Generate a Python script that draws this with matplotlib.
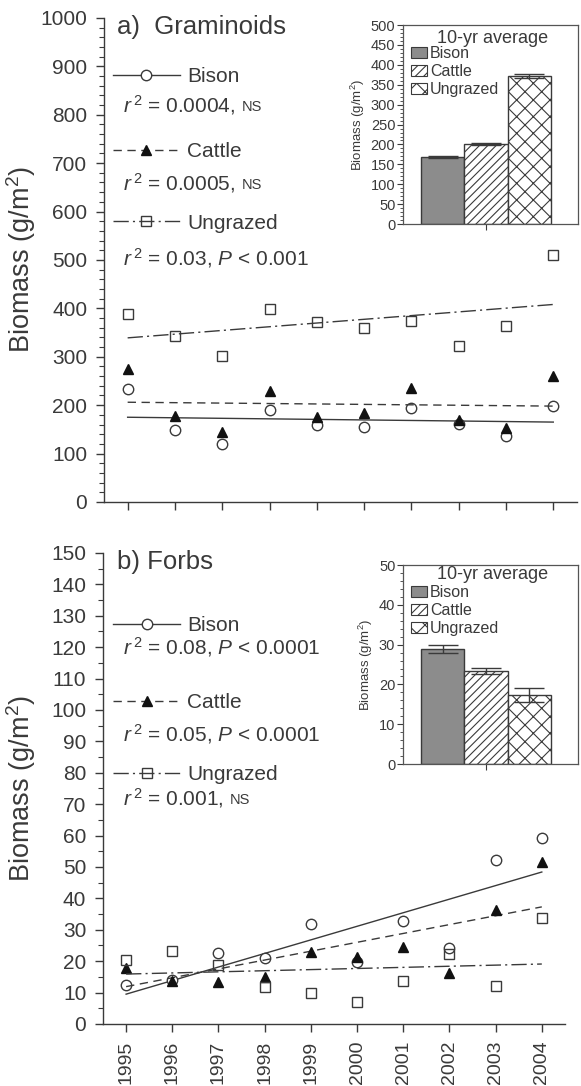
import matplotlib
matplotlib.use("Agg")
import matplotlib.pyplot as plt
from matplotlib.lines import Line2D
from matplotlib.patches import Patch
from matplotlib.legend import Legend
from matplotlib.ticker import MultipleLocator
import numpy as np

plt.rcParams['font.family'] = ['Liberation Sans', 'DejaVu Sans']
plt.rcParams['mathtext.fontset'] = 'custom'
plt.rcParams['mathtext.rm'] = 'Liberation Sans'
plt.rcParams['mathtext.it'] = 'Liberation Sans:italic'
plt.rcParams['hatch.linewidth'] = 0.8

INK = '#3a3a3a'

years = np.arange(1995, 2005)
trend_years = [1995, 2004]

# a) graminoids, g/m2
gram_bison = [233, 149, 120, 190, 159, 155, 194, 161, 136, 198]
gram_cattle = [275, 178, 145, 229, 176, 184, 236, 169, 153, 260]
gram_ungrazed = [388, 343, 302, 399, 372, 360, 374, 322, 364, 510]
gram_trend_bison = [175, 165]
gram_trend_cattle = [206, 198]
gram_trend_ungrazed = [339, 408]
gram_avg = [169, 201, 373]
gram_avg_err = [3, 2, 5]
gram_stats = [r'$r^{\,2}$ = 0.0004,', r'$r^{\,2}$ = 0.0005,', r'$r^{\,2}$ = 0.03, $P$ < 0.001']
gram_ns = [True, True, False]

# b) forbs, g/m2
forb_bison = [12.4, 14.0, 22.6, 21.0, 31.8, 19.7, 32.8, 24.2, 52.2, 59.2]
forb_cattle = [17.8, 13.7, 13.4, 15.0, 22.9, 21.4, 24.6, 16.3, 36.3, 51.6]
forb_ungrazed = [20.4, 23.2, 18.8, 11.9, 9.9, 7.0, 13.7, 22.3, 12.1, 33.8]
forb_trend_bison = [9.5, 48.4]
forb_trend_cattle = [11.9, 37.3]
forb_trend_ungrazed = [15.9, 19.1]
forb_avg = [29.0, 23.4, 17.3]
forb_avg_err = [1.0, 0.8, 1.8]
forb_stats = [r'$r^{\,2}$ = 0.08, $P$ < 0.0001', r'$r^{\,2}$ = 0.05, $P$ < 0.0001', r'$r^{\,2}$ = 0.001,']
forb_ns = [False, False, True]

treatments = ['Bison', 'Cattle', 'Ungrazed']

styles = [
    dict(ls='-', marker='o', mfc='white', mec=INK, ms=7.5),
    dict(ls=(0, (6, 4)), marker='^', mfc='#111111', mec='#111111', ms=7.5),
    dict(ls=(0, (11, 3, 1.5, 3)), marker='s', mfc='none', mec=INK, ms=7.5),
]
bar_styles = [
    dict(facecolor='#8c8c8c', hatch=None),
    dict(facecolor='white', hatch='////'),
    dict(facecolor='white', hatch='xx'),
]

fig = plt.figure(figsize=(5.81, 10.86), dpi=100)


def main_panel(rect, series, trends, ylim, major, minor, title, stats, ns,
               key_y, stat_y, key_x, stat_x, label_x, show_years):
    ax = fig.add_axes(rect)
    for vals, tr, st in zip(series, trends, styles):
        ax.plot(trend_years, tr, color=INK, lw=1.0, ls=st['ls'])
        ax.plot(years, vals, ls='none', marker=st['marker'], mfc=st['mfc'],
                mec=st['mec'], ms=st['ms'], mew=1.0)
    ax.set_xlim(1994.5, 2004.5)
    ax.set_ylim(*ylim)
    ax.set_xticks(years)
    ax.yaxis.set_major_locator(MultipleLocator(major))
    ax.yaxis.set_minor_locator(MultipleLocator(minor))
    for s in ['top', 'right']:
        ax.spines[s].set_visible(False)
    for s in ['left', 'bottom']:
        ax.spines[s].set_color(INK)
        ax.spines[s].set_linewidth(1.0)
    ax.tick_params(axis='both', which='major', length=6, width=1.0, color=INK,
                   labelcolor=INK, labelsize=15, pad=6)
    ax.tick_params(axis='y', which='minor', length=3.5, width=0.8, color=INK)
    if show_years:
        ax.set_xticklabels([str(y) for y in years], rotation=90, fontsize=14)
    else:
        ax.set_xticklabels([])
    ax.set_ylabel('Biomass (g/m$^2$)', fontsize=19.5, color=INK)
    ax.yaxis.set_label_coords(label_x, 0.5)
    ax.text(key_x + 0.008, 0.981, title, transform=ax.transAxes, fontsize=18.5,
            color=INK, va='center', ha='left')
    for i, st in enumerate(styles):
        h = Line2D([], [], color=INK, lw=1.0, ls=st['ls'], marker=st['marker'],
                   mfc=st['mfc'], mec=st['mec'], ms=st['ms'], mew=1.0)
        leg = Legend(ax, [h], [treatments[i]], loc='center left',
                     bbox_to_anchor=(key_x, key_y[i]), frameon=False,
                     fontsize=15, handlelength=3.2, handletextpad=0.35,
                     borderpad=0, borderaxespad=0, labelcolor=INK)
        ax.add_artist(leg)
        t = ax.text(stat_x, stat_y[i], stats[i], transform=ax.transAxes,
                    fontsize=15, color=INK, va='center', ha='left')
        if ns[i]:
            ax.annotate('NS', xy=(1, 0), xycoords=t, xytext=(4.5, 2.2),
                        textcoords='offset points', fontsize=10.5, color=INK,
                        va='bottom', ha='left')
    return ax


def inset_panel(rect, avg, err, ylim, major, minor, title_y, key_top):
    ax = fig.add_axes(rect)
    for i, (v, e, bs) in enumerate(zip(avg, err, bar_styles)):
        ax.bar(i, v, width=1.0, color=bs['facecolor'], hatch=bs['hatch'],
               edgecolor=INK, linewidth=1.0)
        ax.errorbar(i, v, yerr=e, color=INK, capsize=11, elinewidth=1.0,
                    capthick=1.0)
    ax.set_xlim(-0.914, 3.12)
    ax.set_ylim(*ylim)
    ax.set_xticks([1])
    ax.set_xticklabels([])
    ax.yaxis.set_major_locator(MultipleLocator(major))
    ax.yaxis.set_minor_locator(MultipleLocator(minor))
    for s in ax.spines.values():
        s.set_color('#555555')
        s.set_linewidth(0.9)
    ax.tick_params(axis='both', which='major', length=4, width=0.8, color=INK,
                   labelcolor=INK, labelsize=10.5, pad=1.5)
    ax.tick_params(axis='y', which='minor', length=2, width=0.6, color=INK)
    ax.set_ylabel('Biomass (g/m$^2$)', fontsize=9.5, color=INK, labelpad=3)
    ax.text(0.514, title_y, '10-yr average', transform=ax.transAxes,
            fontsize=13, color=INK, ha='center', va='center')
    handles = [Patch(facecolor=bs['facecolor'], hatch=bs['hatch'],
                     edgecolor=INK, linewidth=0.8) for bs in bar_styles]
    ax.legend(handles, treatments, loc='upper left', bbox_to_anchor=(0.045, key_top),
              frameon=False, fontsize=11.5, handlelength=1.0, handleheight=0.7,
              handletextpad=0.2, labelspacing=0.2, borderpad=0, borderaxespad=0,
              labelcolor=INK)
    return ax


main_panel([0.179, 0.5378, 0.814, 0.4457],
           [gram_bison, gram_cattle, gram_ungrazed],
           [gram_trend_bison, gram_trend_cattle, gram_trend_ungrazed],
           (0, 1000), 100, 20, 'a)  Graminoids', gram_stats, gram_ns,
           key_y=[0.878, 0.723, 0.576], stat_y=[0.820, 0.659, 0.504],
           key_x=0.019, stat_x=0.040, label_x=-0.14, show_years=False)

main_panel([0.1773, 0.0571, 0.795, 0.4337],
           [forb_bison, forb_cattle, forb_ungrazed],
           [forb_trend_bison, forb_trend_cattle, forb_trend_ungrazed],
           (0, 150), 10, 5, 'b) Forbs', forb_stats, forb_ns,
           key_y=[0.845, 0.682, 0.529], stat_y=[0.800, 0.616, 0.480],
           key_x=0.022, stat_x=0.043, label_x=-0.141, show_years=True)

inset_panel([0.6936, 0.7937, 0.301, 0.1832], gram_avg, gram_avg_err,
            (0, 500), 50, 10, 0.935, 0.895)
inset_panel([0.6936, 0.2965, 0.301, 0.1832], forb_avg, forb_avg_err,
            (0, 50), 10, 2, 0.95, 0.90)

fig.savefig('out.png', dpi=100, facecolor='white')
